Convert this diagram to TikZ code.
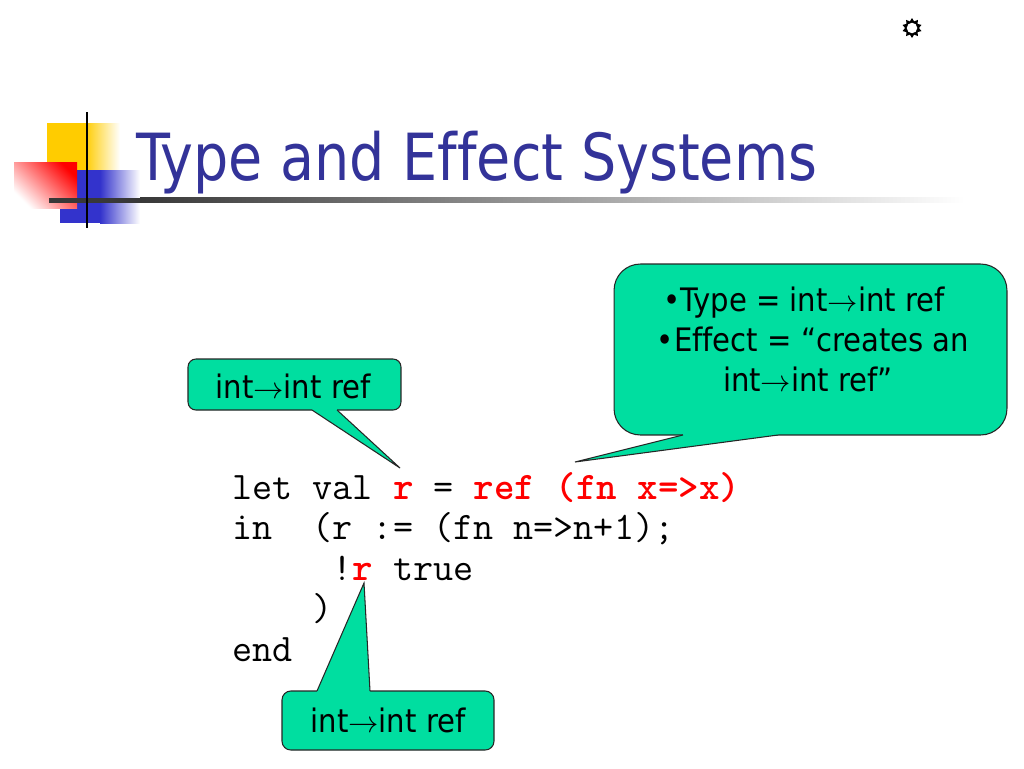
\documentclass[tikz,border=0pt]{standalone}
\usepackage{fontspec}
\setmainfont[Ligatures=CommonOff]{DejaVu Sans Condensed}
\usetikzlibrary{positioning,shapes.geometric}
\definecolor{titleblue}{RGB}{51,51,153}
\definecolor{calloutgreen}{RGB}{0,222,160}
\definecolor{logoyellow}{RGB}{255,204,0}
\definecolor{logoblue}{RGB}{51,51,204}
\definecolor{codered}{RGB}{255,0,0}
\newcommand{\hot}[1]{\textcolor{codered}{\textbf{#1}}}
\tikzset{
	calloutbox/.style={draw=black!85, fill=calloutgreen, line width=0.6pt, inner sep=0pt},
	calloutfill/.style={fill=calloutgreen},
	calloutedge/.style={draw=black!85, line width=0.6pt},
	callouttext/.style={font=\fontsize{18.4}{22}\selectfont, inner sep=0pt, anchor=base},
	codeline/.style={font=\ttfamily\fontsize{22.2}{26}\selectfont, inner sep=0pt, anchor=base west}
}

\begin{document}
\begin{tikzpicture}[x=0.02cm, y=-0.02cm]
			%%%%% START %%%%%
			\fill[white] (0,0) rectangle (1024,768);
			\useasboundingbox (0,0) rectangle (1024,768);
			
			% logo
			\fill[logoyellow] (47,123) rectangle (85,170);
			\shade[left color=logoyellow, right color=white] (85,123) rectangle (120,170);
			\fill[logoblue] (60,170) rectangle (100,223);
			\shade[left color=logoblue, right color=white] (100,170) rectangle (140,223);
			\shade[top color=red, bottom color=white, shading angle=-45] (14,162) rectangle (77,208);
			\fill[black!78] (49,197.5) rectangle (140,202.5);
			\shade[left color=black!78, middle color=black!40, right color=white] (140,197.5) rectangle (965,202.5);
			\draw[line width=1.7pt] (87,112) -- (87,228);
			
			\node[font=\fontsize{37}{44}\selectfont, text=titleblue, inner sep=0pt, anchor=base west, xscale=0.95] (title) at (136,180) {Type and Effect Systems};
			
			% sun
			\node[star, star points=10, star point ratio=1.45, fill=black, inner sep=0pt, minimum size=0.4cm] (sun) at (912,28) {};
			\fill[white] (sun.center) circle (0.105cm);
			
			% code
			\node[codeline] (line1) at (232,499) {let val \hot{r} = \hot{ref (fn x=>x)}};
			\node[codeline] (line2) at (232,539.5) {in \ (r := (fn n=>n+1);};
			\node[codeline] (line3) at (232,580) {\phantom{xxxxx}!\hot{r} true};
			\node[codeline] (line4) at (232,620.5) {\phantom{xxxx})};
			\node[codeline] (line5) at (232,661) {end};
			
			% callout at r
			\node[calloutbox, rounded corners=4.5pt, minimum width=4.26cm, minimum height=1.02cm] (letbox) at (294.5,384.5) {};
			\coordinate (letL) at (312,410);
			\coordinate (letR) at (337,410);
			\coordinate (lettip) at (400,468);
			\fill[calloutfill] ([yshift=1.5pt]letL) -- (letL) -- (lettip) -- (letR) -- ([yshift=1.5pt]letR) -- cycle;
			\draw[calloutedge] (letL) -- (lettip) -- (letR);
			\node[callouttext] (lettext) at (293,398) {int$\rightarrow$int ref};
			
			% callout at ref
			\node[calloutbox, rounded corners=15pt, minimum width=7.86cm, minimum height=3.42cm] (effectbox) at (810.5,349.5) {};
			\coordinate (effectL) at (683,435);
			\coordinate (effectR) at (778,435);
			\coordinate (effecttip) at (575,462);
			\fill[calloutfill] ([yshift=1.5pt]effectL) -- (effectL) -- (effecttip) -- (effectR) -- ([yshift=1.5pt]effectR) -- cycle;
			\draw[calloutedge] (effectL) -- (effecttip) -- (effectR);
			\node[callouttext] (effecttext1) at (804,311) {•Type = int$\rightarrow$int ref};
			\node[callouttext] (effecttext2) at (813,351) {•Effect = “creates an};
			\node[callouttext] (effecttext3) at (808,391) {int$\rightarrow$int ref”};
			
			% callout at !r
			\node[calloutbox, rounded corners=5pt, minimum width=4.24cm, minimum height=1.18cm] (usebox) at (388,720.5) {};
			\coordinate (useL) at (317,691);
			\coordinate (useR) at (370,691);
			\coordinate (usetip) at (364,583);
			\fill[calloutfill] ([yshift=-1.5pt]useL) -- (useL) -- (usetip) -- (useR) -- ([yshift=-1.5pt]useR) -- cycle;
			\draw[calloutedge] (useL) -- (usetip) -- (useR);
			\node[callouttext] (usetext) at (388,732) {int$\rightarrow$int ref};
			
			%%%%% END %%%%%
\end{tikzpicture}
\end{document}
